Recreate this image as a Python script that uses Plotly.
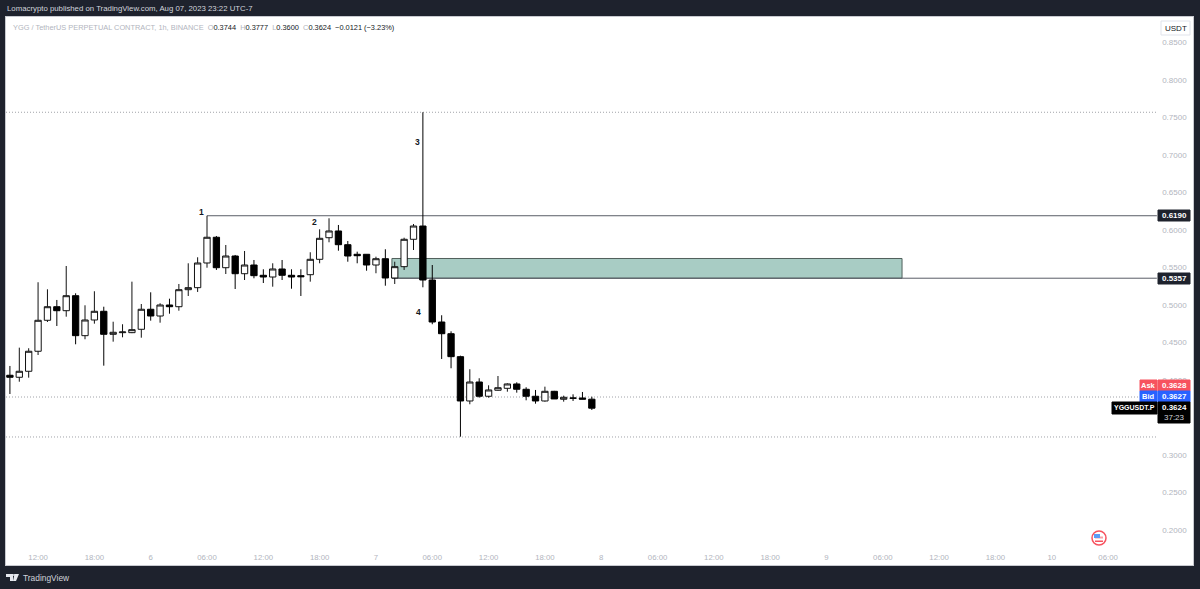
import pandas as pd
import plotly.graph_objects as go

# ---- data (hourly candles, 5 Aug 2023 09:00 -> 7 Aug 23:00)
times = pd.date_range("2023-08-05 09:00", periods=63, freq="h")
opens = [.4063,.4036,.4116,.4383,.4796,.4977,.4924,.5124,.4591,.4800,.4916,.4609,.4631,.4631,.4676,.4943,.4853,.5000,.4977,.5204,.5231,
         .5560,.5903,.5497,.5653,.5417,.5533,.5396,.5373,.5480,.5396,.5391,.5404,.5609,.5897,.5987,.5804,.5676,.5676,.5533,.5617,.5360,
         .5511,.5876,.6053,.5333,.4773,.4617,.4311,.3720,.3973,.3783,.3863,.3889,.3947,.3876,.3783,.3720,.3849,.3743,.3760,.3760,.3744]
highs = [.4187,.4431,.4423,.5303,.5209,.5067,.5520,.5156,.4996,.5183,.4977,.4777,.4743,.5311,.5013,.5169,.5023,.5084,.5280,.5556,.5636,
         .6190,.5920,.5800,.5667,.5720,.5600,.5476,.5556,.5600,.5476,.5476,.5703,.6009,.6156,.6067,.5853,.5711,.5676,.5644,.5743,.5577,
         .5897,.6080,.7570,.5533,.4863,.4649,.4324,.4143,.4023,.3929,.4053,.3956,.3969,.3903,.3867,.3911,.3855,.3791,.3809,.3840,.3777]
lows = [.3813,.3977,.4031,.4333,.4773,.4720,.4844,.4476,.4543,.4751,.4191,.4511,.4569,.4625,.4564,.4791,.4764,.4884,.4924,.5120,.5174,
        .5497,.5467,.5413,.5213,.5333,.5356,.5293,.5244,.5333,.5217,.5120,.5311,.5556,.5836,.5724,.5577,.5556,.5457,.5423,.5257,.5280,
        .5467,.5733,.5236,.4743,.4280,.4156,.3244,.3676,.3764,.3764,.3857,.3844,.3831,.3729,.3684,.3711,.3747,.3711,.3720,.3743,.3600]
closes = [.4036,.4116,.4383,.4796,.4977,.4924,.5124,.4591,.4800,.4916,.4609,.4636,.4640,.4671,.4943,.4853,.5000,.4977,.5204,.5231,.5560,
          .5903,.5497,.5653,.5417,.5533,.5391,.5373,.5480,.5396,.5373,.5377,.5609,.5889,.5987,.5804,.5653,.5657,.5533,.5617,.5360,.5511,
          .5876,.6053,.5333,.4773,.4617,.4311,.3720,.3973,.3783,.3867,.3897,.3947,.3876,.3783,.3720,.3849,.3747,.3769,.3757,.3744,.3624]

# 0.3500 sits fully behind the last-price tag in the reference, so it is not drawn
price_ticks = [.20,.25,.30,.40,.45,.50,.55,.60,.65,.70,.75,.80,.85]
time_ticks = ["2023-08-05 12:00","2023-08-05 18:00","2023-08-06 00:00","2023-08-06 06:00","2023-08-06 12:00","2023-08-06 18:00",
              "2023-08-07 00:00","2023-08-07 06:00","2023-08-07 12:00","2023-08-07 18:00","2023-08-08 00:00","2023-08-08 06:00",
              "2023-08-08 12:00","2023-08-08 18:00","2023-08-09 00:00","2023-08-09 06:00","2023-08-09 12:00","2023-08-09 18:00",
              "2023-08-10 00:00","2023-08-10 06:00"]
time_labels = ["12:00","18:00","6","06:00","12:00","18:00","7","06:00","12:00","18:00","8","06:00","12:00","18:00","9","06:00","12:00","18:00","10","06:00"]

level_high = 0.6190
level_zone = 0.5357
zone_top = 0.5620
level_dot_top = 0.7570
level_dot_mid = 0.3773
level_dot_low = 0.3240
swing_labels = [("1", "2023-08-06 05:24", 0.6240), ("2", "2023-08-06 17:24", 0.6107),
                ("3", "2023-08-07 04:24", 0.7173), ("4", "2023-08-07 04:30", 0.4907)]

DARK = "#1e222d"
GREY = "#b2b5be"
FONT = "Liberation Sans"
L, R, T, B = 6, 1193, 17, 565

def X(px):
    return (px - L) / (R - L)

def Y(py):
    return (B - py) / (B - T)

fig = go.Figure(go.Candlestick(
    x=times, open=opens, high=highs, low=lows, close=closes,
    increasing=dict(line=dict(color="#111111", width=1), fillcolor="#ffffff"),
    decreasing=dict(line=dict(color="#000000", width=1), fillcolor="#000000"),
    whiskerwidth=0, showlegend=False, hoverinfo="skip",
))

shapes = []
def rect_px(x0, y0, x1, y1, fill, line=None):
    shapes.append(dict(type="rect", xref="paper", yref="paper", x0=X(x0), x1=X(x1), y0=Y(y0), y1=Y(y1),
                       fillcolor=fill, line=dict(color=line or fill, width=1), layer="above"))

def hline(y, x0, x1, color, dash="solid", width=1):
    shapes.append(dict(type="line", xref="x", yref="y", x0=x0, x1=x1,
                       y0=y, y1=y, line=dict(color=color, width=width, dash=dash), layer="below"))

START = "2023-08-05 08:35"
LINE_END = "2023-08-10 11:12"
DOT = "1px,2px"
DOT_COLOR = "#a0a2a8"
# green zone
shapes.append(dict(type="rect", xref="x", yref="y", x0="2023-08-07 01:42", x1="2023-08-09 08:03", y0=level_zone, y1=zone_top,
                   fillcolor="#a8ccc4", line=dict(color="#50605c", width=1), layer="below"))
hline(level_high, "2023-08-06 06:00", LINE_END, "#5a5d66")
hline(level_zone, "2023-08-07 01:42", LINE_END, "#5a5d66")
hline(level_dot_top, START, LINE_END, DOT_COLOR, DOT)
hline(level_dot_mid, START, LINE_END, DOT_COLOR, DOT)
hline(level_dot_low, START, LINE_END, DOT_COLOR, DOT)

# price tags
rect_px(1158, 210, 1190, 221, DARK)
rect_px(1158, 273, 1190, 284, DARK)
rect_px(1140, 380, 1157, 391, "#f7525f")
rect_px(1158, 380, 1190, 391, "#f7525f")
rect_px(1140, 391, 1157, 402, "#2962ff")
rect_px(1158, 391, 1190, 402, "#2962ff")
rect_px(1112, 402, 1157, 414, "#000000")
rect_px(1158, 402, 1190, 423, "#000000")
rect_px(1161, 21, 1190, 35, "#ffffff", "#e0e3eb")

# flag marker
shapes += [
    dict(type="circle", xref="paper", yref="paper", x0=X(1092), x1=X(1106), y0=Y(531), y1=Y(545),
         fillcolor="#ffffff", line=dict(color="#f7525f", width=1.5), layer="above"),
    dict(type="rect", xref="paper", yref="paper", x0=X(1095), x1=X(1103), y0=Y(536.5), y1=Y(538.5),
         fillcolor="#f7a0a6", line=dict(width=0), layer="above"),
    dict(type="rect", xref="paper", yref="paper", x0=X(1095), x1=X(1103), y0=Y(540.5), y1=Y(542),
         fillcolor="#f7525f", line=dict(width=0), layer="above"),
    dict(type="rect", xref="paper", yref="paper", x0=X(1094), x1=X(1100), y0=Y(534), y1=Y(538),
         fillcolor="#5b9cf6", line=dict(width=0), layer="above"),
]
# TradingView logo mark
shapes += [
    dict(type="path", xref="paper", yref="paper", layer="above", fillcolor="#e6e8ee", line=dict(width=0),
         path="M {} {} L {} {} L {} {} L {} {} L {} {} L {} {} Z".format(
             X(6), Y(574), X(13), Y(574), X(13), Y(581), X(10), Y(581), X(10), Y(577), X(6), Y(577))),
    dict(type="path", xref="paper", yref="paper", layer="above", fillcolor="#e6e8ee", line=dict(width=0),
         path="M {} {} L {} {} L {} {} L {} {} Z".format(
             X(14.5), Y(574), X(19), Y(574), X(16), Y(581), X(13), Y(581))),
    dict(type="circle", xref="paper", yref="paper", layer="above", fillcolor="#e6e8ee", line=dict(width=0),
         x0=X(13), x1=X(15), y0=Y(574), y1=Y(576)),
]

ann = []
def text_px(cx, cy, txt, color="#ffffff", size=8, anchor="center", bold=False):
    ann.append(dict(xref="paper", yref="paper", x=X(cx), y=Y(cy), text=f"<b>{txt}</b>" if bold else txt, showarrow=False,
                    xanchor=anchor, yanchor="middle", font=dict(family=FONT, size=size, color=color),
                    borderpad=0, align="left"))

text_px(6, 8.5, "Lomacrypto published on TradingView.com, Aug 07, 2023 23:22 UTC-7", "#d1d4dc", 7.8, "left")
g = '<span style="color:#b2b5be">{}</span>'
legend = (g.format("YGG / TetherUS PERPETUAL CONTRACT, 1h, BINANCE") + "&nbsp;&nbsp;" +
          g.format("O") + "0.3744&nbsp;&nbsp;" + g.format("H") + "0.3777&nbsp;&nbsp;" +
          g.format("L") + "0.3600&nbsp;&nbsp;" + g.format("C") + "0.3624&nbsp;&nbsp;\u22120.0121 (\u22123.23%)")
text_px(12, 27, legend, "#131722", 7.4, "left")
text_px(1175.5, 28, "USDT", "#131722", 8)
text_px(1174, 215.5, "0.6190", bold=True)
text_px(1174, 278.5, "0.5357", bold=True)
text_px(1148.5, 385.5, "Ask", bold=True, size=7.5)
text_px(1174, 385.5, "0.3628", bold=True)
text_px(1148.5, 396.5, "Bid", bold=True, size=7.5)
text_px(1174, 396.5, "0.3627", bold=True)
text_px(1134.5, 408, "YGGUSDT.P", bold=True, size=7)
text_px(1174, 408, "0.3624", bold=True)
text_px(1174, 417.5, "37:23", "#d1d4dc")
text_px(22, 577.5, "TradingView", "#d1d4dc", 8.4, "left")

for label, t, p in swing_labels:
    ann.append(dict(xref="x", yref="y", x=t, y=p, text=f"<b>{label}</b>", showarrow=False,
                    font=dict(family=FONT, size=8.5, color="#131722")))

fig.update_layout(
    width=1200, height=589, autosize=False,
    margin=dict(l=L, r=1200 - R, t=T, b=589 - B, pad=0),
    paper_bgcolor=DARK, plot_bgcolor="#ffffff",
    font=dict(family=FONT, size=8, color=GREY),
    shapes=shapes, annotations=ann,
    boxgap=0.18, boxgroupgap=0.18,
    xaxis=dict(type="date", range=[START, "2023-08-10 15:03"], tickmode="array", tickvals=time_ticks, ticktext=time_labels,
               ticklabelposition="inside", ticklabelstandoff=2, showgrid=False, zeroline=False, ticks="", rangeslider=dict(visible=False),
               showline=True, linecolor="#c8cad0", linewidth=1, mirror=True,
               tickfont=dict(family=FONT, size=7.8, color=GREY)),
    yaxis=dict(side="right", range=[0.1533, 0.8840], tickmode="array", tickvals=price_ticks,
               ticktext=[f"{v:.4f}" for v in price_ticks], ticklabelposition="inside", ticklabelstandoff=5,
               showgrid=False, zeroline=False, ticks="", showline=True, linecolor="#c8cad0", linewidth=1, mirror=True,
               tickfont=dict(family=FONT, size=8, color=GREY)),
)
fig.write_html("out.html", config=dict(displayModeBar=False),
               post_script="document.body.style.margin='0';document.body.style.overflow='hidden';")
